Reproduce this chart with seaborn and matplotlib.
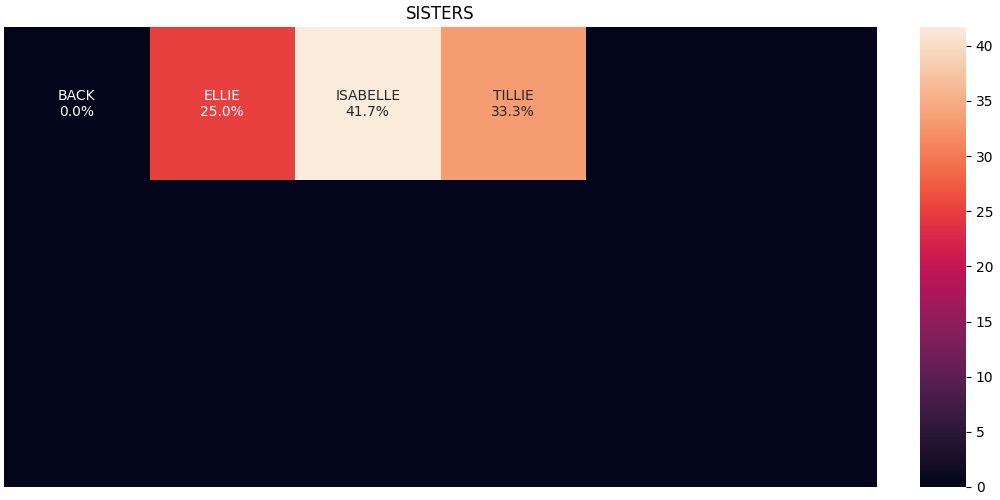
import numpy as np
import pandas as pd
import matplotlib
matplotlib.use("Agg")
import matplotlib.pyplot as plt
import seaborn as sns

names = ["BACK", "ELLIE", "ISABELLE", "TILLIE"]
percents = [0.0, 25.0, 41.7, 33.3]
n_rows, n_cols = 3, 6

vals = np.zeros((n_rows, n_cols))
labels = np.full((n_rows, n_cols), "", dtype=object)
for i, (n, p) in enumerate(zip(names, percents)):
    r, c = divmod(i, n_cols)
    vals[r, c] = p
    labels[r, c] = f"{n}\n{p:.1f}%"

fig = plt.figure(figsize=(10, 5), dpi=100)
ax = fig.add_axes([0.004, 0.026, 0.873, 0.92])
cax = fig.add_axes([0.920, 0.026, 0.046, 0.92])
sns.heatmap(vals, annot=labels, fmt="", xticklabels=False, yticklabels=False,
            ax=ax, cbar_ax=cax)
ax.set_title("SISTERS")
fig.savefig("out.png")
